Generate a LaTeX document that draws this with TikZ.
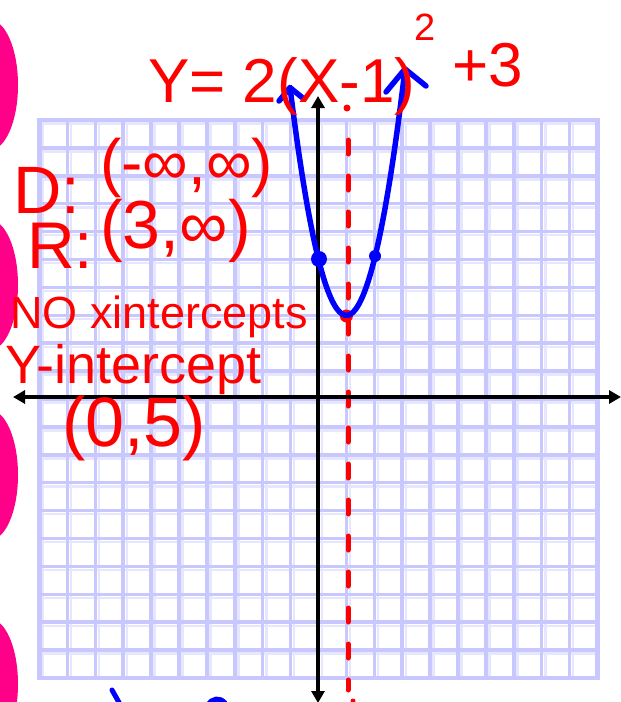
\documentclass[tikz,border=0pt]{standalone}
\usepackage{fontspec}
\setmainfont{Liberation Sans}
\usetikzlibrary{arrows.meta}
\definecolor{gridline}{RGB}{200,200,255}
\definecolor{gridlight}{RGB}{230,230,255}
\definecolor{pinkblob}{RGB}{255,0,136}
\definecolor{inkred}{RGB}{255,0,0}
\definecolor{inkblue}{RGB}{0,0,255}
\begin{document}
\begin{tikzpicture}[x=1pt,y=-1pt,
  handtext/.style={text=inkred, inner sep=0pt, anchor=base west},
  axisline/.style={line width=4.5pt, black, {Triangle[length=12pt,width=13pt]}-{Triangle[length=12pt,width=13pt]}},
  curveline/.style={inkblue, line width=5.5pt, line cap=round, line join=round},
  bluedot/.style={circle, fill=inkblue, inner sep=0pt},
  reddot/.style={circle, fill=inkred, inner sep=0pt},
  dashline/.style={inkred, line width=5pt, line cap=round, dash pattern=on 14pt off 22pt},
  inkstroke/.style={line width=5pt, line cap=round}]
\useasboundingbox (0,0) rectangle (621,702);
\fill[white] (0,0) rectangle (621,702);
% pink blobs at left edge
\foreach \cy in {85,285,475,684}
  \fill[pinkblob] (-10,\cy) ellipse [x radius=28pt, y radius=65pt];
% grid
\foreach \i in {0,...,19} {
  \pgfmathsetmacro\gx{39.5+27.9*\i}
  \pgfmathsetmacro\gy{120+27.9*\i}
  \draw[gridlight, line width=2.5pt] (\gx+3.6,120) -- (\gx+3.6,678);
  \draw[gridlight, line width=2.5pt] (39.5,\gy+3.6) -- (597.5,\gy+3.6);
}
\foreach \i in {1,...,19} {
  \pgfmathsetmacro\gx{39.5+27.9*\i}
  \pgfmathsetmacro\gy{120+27.9*\i}
  \draw[gridline, line width=3.5pt] (\gx,120) -- (\gx,678);
  \draw[gridline, line width=3.5pt] (39.5,\gy) -- (597.5,\gy);
}
\draw[gridline, line width=4.5pt] (39.5,120) rectangle (597.5,678);
% axis of symmetry
\coordinate (axt) at (348,140);
\coordinate (axb) at (348,690);
\draw[dashline] (axt) -- (axb);
\node[reddot, minimum size=7pt] (topdot) at (347,108) {};
% axes
\coordinate (xl) at (13,397);
\coordinate (xr) at (621,397);
\coordinate (yt) at (318,96);
\coordinate (yb) at (318,703);
\draw[axisline] (xl) -- (xr);
\draw[axisline] (yb) -- (yt);
% vertex
\node[reddot, minimum size=13pt] (vertex) at (346.4,316) {};
% parabola
\draw[curveline] plot[domain=-1.02:3.1, samples=80, smooth]
  ({318.5+27.9*\x}, {399-27.9*(2*(\x-1)^2+3)});
\coordinate (lapex) at (290,87.6);
\coordinate (rapex) at (405,69);
\draw[curveline] (279,101) -- (lapex) -- (304,99);
\draw[curveline] (386,92) -- (rapex) -- (426,86);
\node[bluedot, minimum size=16pt] (yint) at (319,259) {};
\node[bluedot, minimum size=12pt] (ptb) at (375,256) {};
\node[bluedot, minimum size=10pt] (ptc) at (405,93) {};
% partial strokes at bottom
\draw[inkblue, inkstroke] (112,690) -- (121,706);
\draw[inkblue, inkstroke] (208,705) .. controls (212,698) and (220,697) .. (225,703);
\node[reddot, minimum size=5pt] (botdot) at (353,701) {};
% texts
\node[handtext, font=\fontsize{62}{62}\selectfont] (eqa) at (148,102) {Y= 2(X-1)};
\node[handtext, font=\fontsize{38}{38}\selectfont] (eqsup) at (414,40) {2};
\node[handtext, font=\fontsize{62}{62}\selectfont] (eqb) at (452,86) {+3};
\node[handtext, font=\fontsize{67}{67}\selectfont] (dlab) at (13,213) {D:};
\node[handtext, font=\fontsize{64}{64}\selectfont] (dval) at (100,184) {(-∞,∞)};
\node[handtext, font=\fontsize{66}{66}\selectfont] (rlab) at (27,268) {R:};
\node[handtext, font=\fontsize{68}{68}\selectfont] (rval) at (100,248) {(3,∞)};
\node[handtext, font=\fontsize{45}{45}\selectfont] (noxi) at (10,328) {NO xintercepts};
\node[handtext, font=\fontsize{54}{54}\selectfont] (yi) at (5,383) {Y-intercept};
\node[handtext, font=\fontsize{70}{70}\selectfont] (yival) at (62,446) {(0,5)};
\end{tikzpicture}
\end{document}
